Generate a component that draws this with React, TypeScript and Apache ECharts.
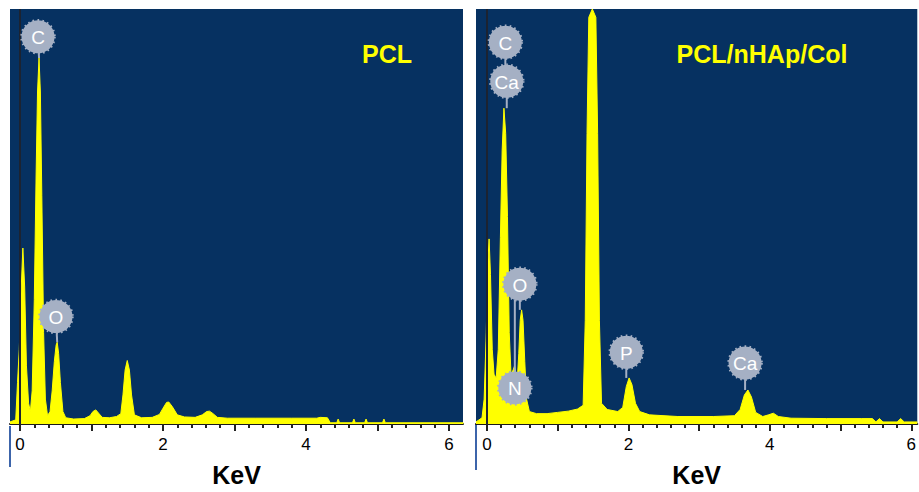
import React, { useEffect, useRef } from 'react';
import * as echarts from 'echarts';

// Tick positions (KeV)
const majorTicks = [0, 1, 2, 3, 4, 5, 6];
const labelTicks = [0, 2, 4, 6];
const minorTicks = [
  0, 0.2, 0.4, 0.6, 0.8, 1, 1.2, 1.4, 1.6, 1.8, 2, 2.2, 2.4, 2.6, 2.8, 3, 3.2, 3.4, 3.6, 3.8,
  4, 4.2, 4.4, 4.6, 4.8, 5, 5.2, 5.4, 5.6, 5.8, 6,
];

// PCL spectrum: [KeV, counts (relative, 100 = top of panel)]
const pclSpectrum: [number, number][] = [
  [-0.14, 0.5], [-0.06, 1], [-0.035, 10], [-0.01, 18], [0.015, 32], [0.04, 42.4], [0.065, 33],
  [0.09, 14], [0.12, 5], [0.145, 3], [0.17, 8], [0.2, 30], [0.225, 60], [0.245, 80], [0.266, 88.2],
  [0.285, 80], [0.305, 55], [0.33, 22], [0.355, 6], [0.385, 2], [0.42, 3], [0.45, 8], [0.48, 15],
  [0.505, 19], [0.52, 19.7], [0.54, 17], [0.565, 10], [0.6, 3], [0.64, 1.5], [0.75, 1.2], [0.9, 1.3],
  [0.98, 2], [1.02, 3], [1.06, 3.4], [1.1, 2.6], [1.15, 1.6], [1.25, 1.5], [1.35, 1.8], [1.41, 2.5],
  [1.44, 7], [1.47, 13], [1.5, 15.3], [1.53, 13], [1.56, 7], [1.6, 2.2], [1.7, 1.5], [1.85, 1.6],
  [1.95, 2.3], [2.0, 3.8], [2.05, 5.2], [2.08, 5.3], [2.13, 4.2], [2.2, 2.2], [2.3, 1.7], [2.45, 1.6],
  [2.55, 2.2], [2.61, 3], [2.65, 3.1], [2.7, 2.5], [2.76, 1.6], [2.9, 1.4], [3.3, 1.4], [3.8, 1.4],
  [4.15, 1.4], [4.2, 1.6], [4.3, 1.5], [4.34, 0.3], [4.43, 0.3], [4.45, 1.2], [4.47, 0.3], [4.65, 0.3],
  [4.67, 1.2], [4.69, 0.3], [4.82, 0.3], [4.84, 1.2], [4.86, 0.3], [5.07, 0.3], [5.09, 1.2], [5.11, 0.3],
  [6.2, 0.3],
];

// PCL/nHAp/Col spectrum
const compositeSpectrum: [number, number][] = [
  [-0.155, 0.5], [-0.07, 1.5], [-0.04, 6], [-0.01, 22], [0.01, 38], [0.03, 44.6], [0.05, 36],
  [0.075, 18], [0.1, 12], [0.13, 11], [0.16, 18], [0.19, 45], [0.215, 66], [0.24, 76.1], [0.265, 70],
  [0.29, 50], [0.315, 22], [0.34, 12], [0.37, 13], [0.39, 14], [0.41, 12], [0.43, 11], [0.45, 17],
  [0.47, 25], [0.49, 27.5], [0.51, 25], [0.535, 15], [0.56, 6], [0.6, 3], [0.7, 2.5], [0.85, 2.5],
  [1.0, 2.8], [1.15, 3.1], [1.28, 3.6], [1.36, 4.5], [1.39, 25], [1.415, 70], [1.44, 98], [1.49, 100],
  [1.54, 98], [1.565, 70], [1.59, 25], [1.62, 5], [1.7, 3.5], [1.85, 3], [1.92, 4], [1.97, 9],
  [2.01, 11.1], [2.05, 9.5], [2.1, 5], [2.16, 3], [2.3, 2.2], [2.7, 1.8], [3.2, 1.8], [3.5, 2.0],
  [3.58, 3.5], [3.64, 7], [3.69, 8.2], [3.74, 6.5], [3.8, 2.8], [3.9, 1.8], [3.98, 2.2], [4.05, 2.6],
  [4.12, 1.8], [4.3, 1.4], [4.8, 1.3], [5.3, 1.3], [5.45, 1.3], [5.5, 0.5], [5.55, 1.3], [5.6, 0.5],
  [5.8, 0.5], [5.85, 1.3], [5.9, 0.5], [6.085, 0.5],
];

// Element annotations: [peak KeV, peak counts, bubble KeV, bubble counts, element]
const pclPeaks: [number, number, number, number, string][] = [
  [0.266, 88.2, 0.252, 93.3, 'C'],
  [0.52, 19.7, 0.503, 25.9, 'O'],
];
const compositePeaks: [number, number, number, number, string][] = [
  [0.28, 76.1, 0.28, 82.6, 'Ca'],
  [0.26, 86.5, 0.26, 92.0, 'C'],
  [0.465, 27.5, 0.465, 33.7, 'O'],
  [0.394, 30, 0.394, 8.7, 'N'],
  [1.97, 11.1, 1.97, 17.3, 'P'],
  [3.65, 8.2, 3.65, 14.7, 'Ca'],
];

const panelTitles = ['PCL', 'PCL/nHAp/Col'];
const axisTitle = 'KeV';

const BG = '#063161';
const YELLOW = '#ffff00';
const BUBBLE = '#a5b0c4';
const FONT = '"Liberation Sans", Arial, sans-serif';

function peakSeries(peaks: [number, number, number, number, string][], idx: number) {
  return {
    type: 'custom',
    xAxisIndex: idx * 2,
    yAxisIndex: idx,
    clip: false,
    z: 10,
    silent: true,
    encode: { x: [0, 2], y: [1, 3] },
    data: peaks.map((p) => [p[0], p[1], p[2], p[3]]),
    renderItem: (params: any, api: any) => {
      const p = api.coord([api.value(0), api.value(1)]);
      const b = api.coord([api.value(2), api.value(3)]);
      const label = peaks[params.dataIndex][4];
      return {
        type: 'group',
        children: [
          {
            type: 'line',
            shape: { x1: b[0], y1: b[1], x2: p[0], y2: p[1] },
            style: { stroke: BUBBLE, lineWidth: 2 },
          },
          {
            type: 'circle',
            shape: { cx: b[0], cy: b[1], r: 16.5 },
            style: { fill: BUBBLE, stroke: BUBBLE, lineWidth: 2.5, lineDash: [1.6, 3.2] },
          },
          {
            type: 'text',
            x: b[0],
            y: b[1] + 1,
            style: {
              text: label,
              fill: '#ffffff',
              font: `19px ${FONT}`,
              textAlign: 'center',
              textVerticalAlign: 'middle',
            },
          },
        ],
      };
    },
  };
}

function spectrumSeries(data: [number, number][], idx: number) {
  return {
    type: 'line',
    xAxisIndex: idx * 2,
    yAxisIndex: idx,
    data,
    showSymbol: false,
    symbol: 'none',
    smooth: false,
    z: 3,
    lineStyle: { color: YELLOW, width: 1 },
    areaStyle: { color: YELLOW, opacity: 1 },
    markLine: {
      silent: true,
      symbol: ['none', 'none'],
      label: { show: false },
      lineStyle: { color: '#1c2331', width: 2, type: 'solid' },
      data: [{ xAxis: 0 }],
    },
  };
}

function xAxes(gridIndex: number, min: number, max: number) {
  return [
    {
      type: 'value',
      gridIndex,
      min,
      max,
      position: 'bottom',
      splitLine: { show: false },
      axisLine: { show: true, onZero: false, lineStyle: { color: '#1a1a1a', width: 2 } },
      axisTick: { show: true, customValues: majorTicks, length: 7, lineStyle: { color: '#222', width: 2 } },
      axisLabel: {
        show: true,
        customValues: labelTicks,
        fontSize: 17,
        color: '#000',
        fontFamily: FONT,
        margin: 12,
      },
      name: axisTitle,
      nameLocation: 'middle',
      nameGap: 38,
      nameTextStyle: { fontSize: 25, fontWeight: 'bold', color: '#000', fontFamily: FONT },
    },
    {
      type: 'value',
      gridIndex,
      min,
      max,
      position: 'bottom',
      splitLine: { show: false },
      axisLine: { show: false },
      axisTick: { show: true, customValues: minorTicks, length: 4, lineStyle: { color: '#222', width: 2 } },
      axisLabel: { show: false },
    },
  ];
}

export default function App() {
  const ref = useRef<HTMLDivElement>(null);
  useEffect(() => {
    if (!ref.current) return;
    const chart = echarts.init(ref.current, null, { renderer: 'svg' });
    chart.setOption({
      animation: false,
      backgroundColor: '#ffffff',
      textStyle: { fontFamily: FONT },
      grid: [
        { left: 10, top: 9, width: 453, height: 417, show: true, backgroundColor: BG, borderWidth: 0 },
        { left: 476, top: 9, width: 443, height: 415, show: true, backgroundColor: BG, borderWidth: 0 },
      ],
      xAxis: [...xAxes(0, -0.14, 6.196), ...xAxes(1, -0.155, 6.085)],
      yAxis: [
        { type: 'value', gridIndex: 0, min: 0, max: 100, show: false },
        { type: 'value', gridIndex: 1, min: 0, max: 100, show: false },
      ],
      graphic: [
        { type: 'line', shape: { x1: 10, y1: 426, x2: 10, y2: 467 }, style: { stroke: '#3c64aa', lineWidth: 2 } },
        { type: 'line', shape: { x1: 476, y1: 424, x2: 476, y2: 470 }, style: { stroke: '#3c64aa', lineWidth: 2 } },
        {
          type: 'text',
          x: 387,
          y: 54,
          z: 20,
          style: {
            text: panelTitles[0],
            fill: YELLOW,
            font: `bold 25px ${FONT}`,
            textAlign: 'center',
            textVerticalAlign: 'middle',
          },
        },
        {
          type: 'text',
          x: 762,
          y: 54,
          z: 20,
          style: {
            text: panelTitles[1],
            fill: YELLOW,
            font: `bold 25px ${FONT}`,
            textAlign: 'center',
            textVerticalAlign: 'middle',
          },
        },
      ],
      series: [
        spectrumSeries(pclSpectrum, 0),
        spectrumSeries(compositeSpectrum, 1),
        peakSeries(pclPeaks, 0),
        peakSeries(compositePeaks, 1),
      ],
    });
    return () => chart.dispose();
  }, []);
  return (
    <div
      ref={ref}
      style={{ position: 'absolute', left: 0, top: 0, width: 919, height: 492, background: '#fff' }}
    />
  );
}
